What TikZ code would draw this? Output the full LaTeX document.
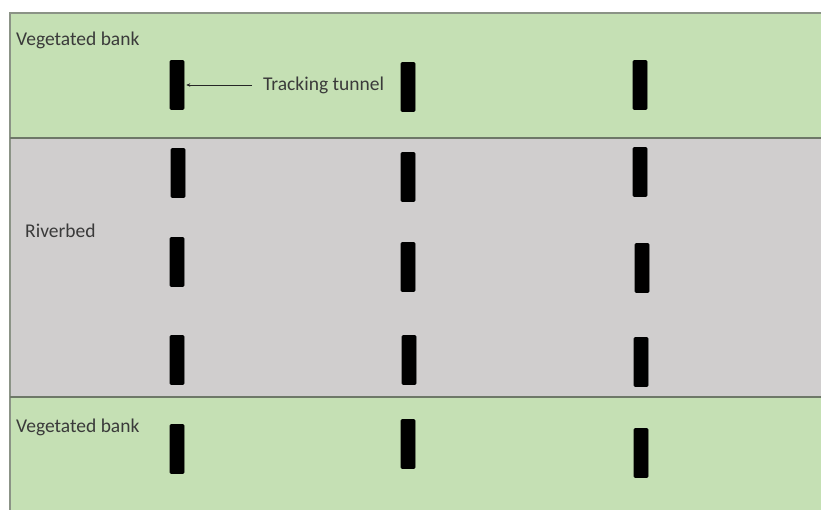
\documentclass[tikz,border=0pt]{standalone}
\usepackage{fontspec}
\setmainfont{Carlito}
\usetikzlibrary{arrows.meta}
\definecolor{bankgreen}{HTML}{C5E0B4}
\definecolor{bedgray}{HTML}{D0CECE}
\definecolor{edgecol}{HTML}{6E7868}
\definecolor{txtcol}{HTML}{3A3A3A}
\tikzset{
  tunnel/.style={draw=black, fill=black, line width=0.6pt, rounded corners=1pt,
    minimum width=14pt, minimum height=49pt, inner sep=0pt},
  lbl/.style={font=\fontsize{19.5}{22}\selectfont, text=txtcol, inner sep=0pt, anchor=base west},
  band/.style={draw=none}
}
\begin{document}
\begin{tikzpicture}[x=1pt,y=-1pt]
\useasboundingbox (0,0) rectangle (821,510);
\fill[white] (0,0) rectangle (821,510);
% bands
\fill[bankgreen] (10,13) rectangle (821,138);
\fill[bedgray] (10,138) rectangle (821,397);
\fill[bankgreen] (10,397) rectangle (821,510);
\draw[edgecol!80, line width=1.5pt] (10,510) -- (10,13) -- (821,13);
\draw[edgecol, line width=2pt] (10,138) -- (821,138);
\draw[edgecol, line width=1.6pt] (10,397) -- (821,397);
% labels
\node[lbl] (vtop) at (16,46) {Vegetated bank};
\node[lbl] (river) at (25,238) {Riverbed};
\node[lbl] (vbot) at (16,432) {Vegetated bank};
% tunnels
\node[tunnel] (t11) at (177,85) {};
\node[tunnel] (t21) at (408,87) {};
\node[tunnel] (t31) at (640,85) {};
\node[tunnel] (t12) at (178,173) {};
\node[tunnel] (t22) at (408,177) {};
\node[tunnel] (t32) at (640,172) {};
\node[tunnel] (t13) at (177,262) {};
\node[tunnel] (t23) at (408,267) {};
\node[tunnel] (t33) at (642,268) {};
\node[tunnel] (t14) at (177,360) {};
\node[tunnel] (t24) at (409,360) {};
\node[tunnel] (t34) at (641,362) {};
\node[tunnel] (t15) at (177,449) {};
\node[tunnel] (t25) at (408,444) {};
\node[tunnel] (t35) at (641,453) {};
% tracking tunnel label and arrow
\node[font=\fontsize{19.5}{22}\selectfont, text=txtcol, inner sep=0pt, anchor=west] (lab) at (263,85) {Tracking tunnel};
\draw[-{Stealth[length=4pt,width=3.5pt]}, line width=0.7pt, draw=black!85, shorten <=11pt, shorten >=2pt] (lab.west) -- (t11.east);
\end{tikzpicture}
\end{document}
